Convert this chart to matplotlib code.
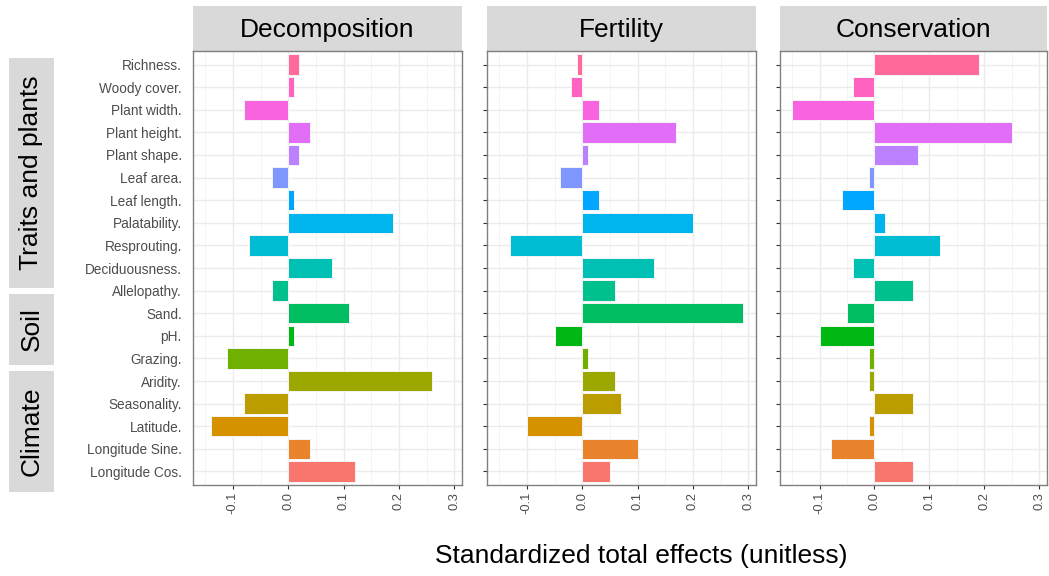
import numpy as np
import matplotlib
matplotlib.use("Agg")
import matplotlib.pyplot as plt
from matplotlib.patches import Rectangle

plt.rcParams['font.family'] = ['Liberation Sans', 'DejaVu Sans']

# categories, bottom to top (ggplot order)
variables = ["Longitude Cos", "Longitude Sine", "Latitude", "Seasonality", "Aridity",
             "Grazing", "pH", "Sand", "Allelopathy", "Deciduousness", "Resprouting",
             "Palatability", "Leaf length", "Leaf area", "Plant shape", "Plant height",
             "Plant width", "Woody cover", "Richness"]

decomposition = [0.12, 0.04, -0.14, -0.08, 0.26, -0.11, 0.01, 0.11, -0.03, 0.08, -0.07,
                 0.19, 0.01, -0.03, 0.02, 0.04, -0.08, 0.01, 0.02]
fertility = [0.05, 0.10, -0.10, 0.07, 0.06, 0.01, -0.05, 0.29, 0.06, 0.13, -0.13,
             0.20, 0.03, -0.04, 0.01, 0.17, 0.03, -0.02, -0.01]
conservation = [0.07, -0.08, -0.01, 0.07, -0.01, -0.01, -0.10, -0.05, 0.07, -0.04, 0.12,
                0.02, -0.06, -0.01, 0.08, 0.25, -0.15, -0.04, 0.19]

panel_titles = ["Decomposition", "Fertility", "Conservation"]
group_names = ["Traits and plants", "Soil", "Climate"]
x_ticks = [-0.1, 0.0, 0.1, 0.2, 0.3]


def hue_pal(n, l=65, c=100):
    # ggplot2 default hue palette, polarLUV -> sRGB
    h = np.deg2rad(15 + 360 * np.arange(n) / n)
    Xn, Yn, Zn = 95.047, 100.0, 108.883
    un = 4 * Xn / (Xn + 15 * Yn + 3 * Zn)
    vn = 9 * Yn / (Xn + 15 * Yn + 3 * Zn)
    Y = Yn * ((l + 16) / 116) ** 3
    u = c * np.cos(h) / (13 * l) + un
    v = c * np.sin(h) / (13 * l) + vn
    X = Y * 9 * u / (4 * v)
    Z = Y * (12 - 3 * u - 20 * v) / (4 * v)
    xyz = np.vstack([X, np.full(n, Y), Z]) / 100
    M = np.array([[3.240479, -1.537150, -0.498535],
                  [-0.969256, 1.875992, 0.041556],
                  [0.055648, -0.204043, 1.057311]])
    rgb = M @ xyz
    rgb = np.where(rgb <= 0.0031308, 12.92 * rgb, 1.055 * np.abs(rgb) ** (1 / 2.4) - 0.055)
    return np.clip(rgb.T, 0, 1)


colors = hue_pal(len(variables))
W, H = 1049, 576
fig = plt.figure(figsize=(W / 100, H / 100), dpi=100)

panels = [(193, 462), (487, 756), (780, 1047)]
top, bottom = 51, 485
ypos = np.arange(1, len(variables) + 1)
text_col = '#4d4d4d'

for k, (vals, title, (x0, x1)) in enumerate(zip([decomposition, fertility, conservation],
                                                 panel_titles, panels)):
    ax = fig.add_axes([x0 / W, 1 - bottom / H, (x1 - x0) / W, (bottom - top) / H])
    ax.set_xlim(-0.172, 0.314)
    ax.set_ylim(0.4, len(variables) + 0.6)
    ax.set_xticks(x_ticks)
    ax.set_xticks([-0.15, -0.05, 0.05, 0.15, 0.25], minor=True)
    ax.set_xticklabels([f"{t:.1f}" for t in x_ticks], rotation=90, fontsize=9.3, color=text_col)
    ax.set_yticks(ypos)
    ax.grid(which='major', color='#ebebeb', lw=1.0, zorder=0)
    ax.grid(which='minor', axis='x', color='#f2f2f2', lw=0.6, zorder=0)
    ax.set_axisbelow(True)
    ax.barh(ypos, vals, height=0.9, color=colors, edgecolor='#f5f5f5', lw=0.7, zorder=2)
    for s in ax.spines.values():
        s.set_color('#808080')
        s.set_linewidth(1.0)
    ax.tick_params(axis='x', which='major', length=3, color='#333333', pad=2)
    ax.tick_params(axis='x', which='minor', length=0)
    if k == 0:
        ax.set_yticklabels([v + "." for v in variables], fontsize=9.8, color=text_col)
        ax.tick_params(axis='y', length=0, pad=8)
    else:
        ax.set_yticklabels([])
        ax.tick_params(axis='y', length=3, color='#333333')
    # facet strip
    ph = bottom - top
    sh = 45 / ph
    ax.add_patch(Rectangle((0, 1), 1, sh, transform=ax.transAxes, facecolor='#d9d9d9',
                           edgecolor='none', clip_on=False))
    ax.text(0.5, 1 + (top - 37) / ph, title, transform=ax.transAxes, ha='center',
            va='baseline', fontsize=19, color='black')

# group boxes on the left
boxes = [(58, 288), (294, 365), (371, 492)]
for name, (y0, y1) in zip(group_names, boxes):
    fig.patches.append(Rectangle((9 / W, 1 - y1 / H), 45 / W, (y1 - y0) / H,
                                 transform=fig.transFigure, facecolor='#d9d9d9',
                                 edgecolor='none'))
    fig.text(31.5 / W, 1 - (y0 + y1) / 2 / H, name, rotation=90, ha='center', va='center',
             fontsize=19, color='black')

fig.text(641 / W, 1 - 556 / H, "Standardized total effects (unitless)", ha='center',
         va='center', fontsize=19, color='black')

fig.savefig("out.png", dpi=100, facecolor='white')
